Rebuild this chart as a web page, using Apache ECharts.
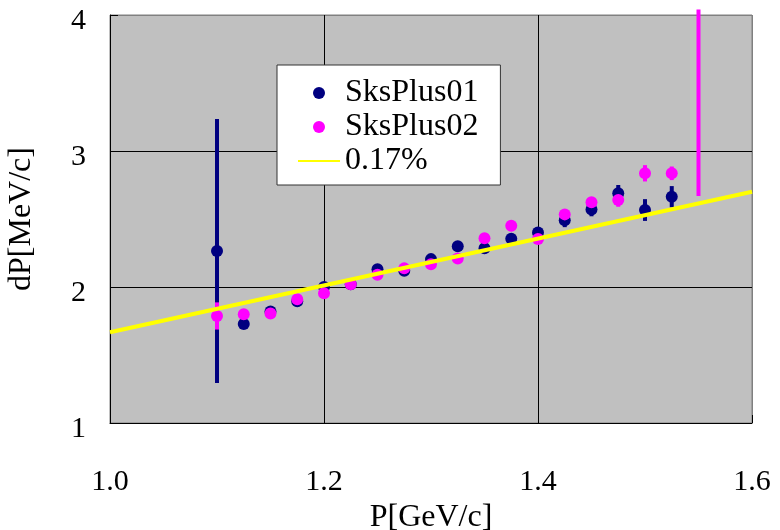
<!DOCTYPE html>
<html>
<head>
<meta charset="utf-8">
<script src="https://cdn.jsdelivr.net/npm/echarts@6/dist/echarts.min.js"></script>
<style>
  html, body { margin: 0; padding: 0; background: #fff; }
  #chart { width: 780px; height: 530px; }
</style>
</head>
<body>
<div id="chart"></div>
<script>
(function() {
  var serif = '"Liberation Serif", serif';
  var navy = '#000080';
  var magenta = '#ff00ff';
  var yellow = '#ffff00';

  // --- data ---
  var pBlue = [1.1, 1.125, 1.15, 1.175, 1.2, 1.225, 1.25, 1.275, 1.3, 1.325, 1.35, 1.375, 1.4, 1.425, 1.45, 1.475, 1.5, 1.525];
  var dpBlue = [2.265, 1.728, 1.82, 1.895, 2.0, 2.02, 2.13, 2.12, 2.205, 2.30, 2.285, 2.355, 2.40, 2.49, 2.57, 2.69, 2.566, 2.664];
  var errBlue = [0.97, 0.03, 0.02, 0.02, 0.02, 0.02, 0.02, 0.02, 0.02, 0.02, 0.02, 0.02, 0.02, 0.05, 0.05, 0.06, 0.08, 0.078];

  var pMag = [1.1, 1.125, 1.15, 1.175, 1.2, 1.225, 1.25, 1.275, 1.3, 1.325, 1.35, 1.375, 1.4, 1.425, 1.45, 1.475, 1.5, 1.525];
  var dpMag = [1.787, 1.80, 1.806, 1.91, 1.954, 2.02, 2.09, 2.137, 2.167, 2.21, 2.358, 2.45, 2.353, 2.534, 2.623, 2.64, 2.836, 2.836];
  var errMag = [0.1, 0.02, 0.02, 0.02, 0.02, 0.02, 0.02, 0.02, 0.02, 0.02, 0.02, 0.02, 0.02, 0.02, 0.02, 0.05, 0.06, 0.05];
  // magenta point beyond the top of the scale: only its error bar shows
  var magOffBar = [1.55, 2.67, 4.04];

  var lineP = [1.0, 1.6];
  var lineDp = [1.667, 2.70];

  var names = ['SksPlus01', 'SksPlus02', '0.17%'];

  function zip(xs, ys) {
    return xs.map(function(x, i) { return [x, ys[i]]; });
  }
  function bars(xs, ys, es) {
    return xs.map(function(x, i) { return [x, ys[i] - es[i], ys[i] + es[i]]; });
  }
  function barRenderer(color) {
    return function(params, api) {
      var a = api.coord([api.value(0), api.value(1)]);
      var b = api.coord([api.value(0), api.value(2)]);
      return {
        type: 'line',
        shape: { x1: a[0], y1: a[1], x2: b[0], y2: b[1] },
        style: { stroke: color, lineWidth: 4 }
      };
    };
  }

  var legendText = { fontFamily: serif, fontSize: 32, color: '#000', lineHeight: 32 };

  var chart = echarts.init(document.getElementById('chart'), null, { renderer: 'canvas' });
  chart.setOption({
    animation: false,
    backgroundColor: '#fff',
    textStyle: { fontFamily: serif },
    grid: {
      left: 110, right: 28, top: 15, bottom: 107,
      outerBoundsMode: 'none',
      containLabel: false,
      show: true,
      backgroundColor: '#c0c0c0',
      borderColor: '#808080',
      borderWidth: 1
    },
    legend: {
      data: [
        { name: names[0] },
        { name: names[1] },
        { name: names[2], itemStyle: { opacity: 0 } }
      ],
      orient: 'vertical',
      left: 277,
      top: 65,
      padding: [12, 22, 8, 20],
      itemGap: 2,
      itemWidth: 42,
      itemHeight: 12,
      backgroundColor: '#fff',
      borderColor: '#333',
      borderWidth: 1,
      selectedMode: false,
      textStyle: legendText
    },
    xAxis: {
      type: 'value',
      min: 1.0,
      max: 1.6,
      interval: 0.2,
      name: 'P[GeV/c]',
      nameLocation: 'middle',
      nameGap: 69,
      nameTextStyle: { fontFamily: serif, fontSize: 32, color: '#000' },
      axisLine: { show: true, lineStyle: { color: '#000', width: 1 } },
      axisTick: { show: true, inside: true, length: 8, lineStyle: { color: '#000' } },
      axisLabel: {
        margin: 44, fontFamily: serif, fontSize: 30, color: '#000',
        formatter: function(v) { return v.toFixed(1); }
      },
      splitLine: { show: true, lineStyle: { color: ['#000', '#000', '#000', '#808080'], width: 1 } }
    },
    yAxis: {
      type: 'value',
      min: 1,
      max: 4,
      interval: 1,
      name: 'dP[MeV/c]',
      nameLocation: 'middle',
      nameGap: 72,
      nameTextStyle: { fontFamily: serif, fontSize: 32, color: '#000' },
      axisLine: { show: true, lineStyle: { color: '#000', width: 1 } },
      axisTick: { show: true, inside: true, length: 8, lineStyle: { color: '#000' } },
      axisLabel: {
        margin: 24, fontFamily: serif, fontSize: 30, color: '#000',
        verticalAlign: 'top', lineHeight: 12
      },
      splitLine: { show: true, lineStyle: { color: ['#000', '#000', '#000', '#808080'], width: 1 } }
    },
    series: [
      {
        name: '0.17%',
        type: 'line',
        data: zip(lineP, lineDp),
        symbol: 'none',
        lineStyle: { color: yellow, width: 4 },
        itemStyle: { color: yellow }
      },
      {
        name: 'SksPlus01 err',
        type: 'custom',
        data: bars(pBlue, dpBlue, errBlue),
        renderItem: barRenderer(navy),
        clip: false
      },
      {
        name: 'SksPlus01',
        type: 'scatter',
        data: zip(pBlue, dpBlue),
        symbolSize: 12,
        itemStyle: { color: navy, opacity: 1 }
      },
      {
        name: 'SksPlus02 err',
        type: 'custom',
        data: bars(pMag, dpMag, errMag).concat([magOffBar]),
        renderItem: barRenderer(magenta),
        clip: false
      },
      {
        name: 'SksPlus02',
        type: 'scatter',
        data: zip(pMag, dpMag),
        symbolSize: 12,
        itemStyle: { color: magenta, opacity: 1 }
      }
    ]
  });
  window.addEventListener('resize', function() { chart.resize(); });
})();
</script>
</body>
</html>
